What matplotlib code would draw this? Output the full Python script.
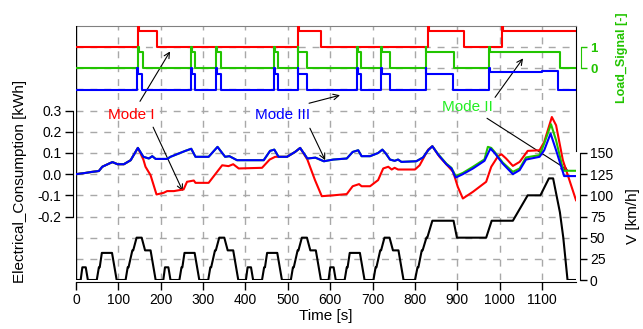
import numpy as np
import matplotlib.pyplot as plt

plt.rcParams['font.family'] = ['Liberation Sans', 'DejaVu Sans']
plt.rcParams['font.size'] = 10

GREEN = '#22c400'

# vehicle speed, NEDC [km/h]
speed_t = [0, 11, 15, 23, 28, 49, 54, 56, 61, 85, 96, 117, 122, 124, 133, 135, 143, 155, 163, 176, 188,
           206, 210, 218, 223, 244, 249, 251, 256, 280, 291, 312, 317, 319, 328, 330, 338, 350, 358, 371, 383,
           401, 405, 413, 418, 439, 444, 446, 451, 475, 486, 507, 512, 514, 523, 525, 533, 545, 553, 566, 578,
           596, 600, 608, 613, 634, 639, 641, 646, 670, 681, 702, 707, 709, 718, 720, 728, 740, 748, 761, 773,
           800, 806, 808, 816, 818, 827, 829, 841, 891, 899, 968, 981, 1031, 1066, 1096, 1116, 1126, 1142,
           1150, 1160, 1180]
speed_v = [0, 0, 15, 15, 0, 0, 15, 15, 32, 32, 0, 0, 15, 15, 35, 35, 50, 50, 35, 35, 0,
           0, 15, 15, 0, 0, 15, 15, 32, 32, 0, 0, 15, 15, 35, 35, 50, 50, 35, 35, 0,
           0, 15, 15, 0, 0, 15, 15, 32, 32, 0, 0, 15, 15, 35, 35, 50, 50, 35, 35, 0,
           0, 15, 15, 0, 0, 15, 15, 32, 32, 0, 0, 15, 15, 35, 35, 50, 50, 35, 35, 0,
           0, 15, 15, 35, 35, 50, 50, 70, 70, 50, 50, 70, 70, 100, 100, 120, 120, 80,
           50, 0, 0]

# electrical consumption [kWh]; Mode II and III identical until ~841 s
shared_t = [0, 23, 35, 54, 62, 78, 86, 98, 113, 129, 146, 159, 172, 180, 188, 215, 223, 258, 272, 282,
            313, 334, 345, 352, 362, 380, 443, 458, 468, 478, 498, 517, 529, 546, 565, 585, 607, 639,
            653, 666, 674, 694, 713, 723, 731, 741, 752, 760, 768, 803, 819, 831, 841]
shared_e = [0.0, 0.006, 0.01, 0.015, 0.035, 0.05, 0.057, 0.047, 0.047, 0.066, 0.124, 0.082, 0.074, 0.085,
            0.072, 0.072, 0.082, 0.11, 0.12, 0.082, 0.082, 0.129, 0.10, 0.082, 0.085, 0.066, 0.066, 0.11,
            0.116, 0.082, 0.082, 0.105, 0.124, 0.074, 0.078, 0.061, 0.069, 0.074, 0.105, 0.113, 0.085,
            0.085, 0.10, 0.116, 0.098, 0.069, 0.063, 0.069, 0.058, 0.061, 0.079, 0.113, 0.132]

mode3_tail_t = [854, 874, 886, 896, 913, 937, 964, 978, 988, 1007, 1031, 1047, 1062, 1094, 1105, 1120,
                1133, 1152, 1180]
mode3_tail_e = [0.094, 0.047, 0.027, -0.016, 0.0, 0.027, 0.063, 0.121, 0.10, 0.05, 0.0, 0.019, 0.069,
                0.082, 0.113, 0.192, 0.113, -0.009, -0.009]

mode2_tail_t = [854, 874, 886, 896, 913, 937, 964, 972, 980, 988, 1007, 1031, 1047, 1062, 1094, 1105,
                1121, 1133, 1150, 1180]
mode2_tail_e = [0.096, 0.05, 0.03, -0.009, 0.006, 0.035, 0.07, 0.129, 0.124, 0.105, 0.055, 0.011, 0.027,
                0.079, 0.09, 0.145, 0.236, 0.16, 0.016, 0.016]

mode1_tail_t = [159, 164, 176, 190, 207, 215, 231, 254, 262, 278, 282, 313, 333, 345, 360, 371, 384, 439,
                457, 470, 498, 517, 529, 546, 564, 580, 607, 639, 653, 668, 674, 694, 713, 725, 737, 745,
                752, 760, 800, 811, 831, 841, 858, 890, 901, 913, 937, 968, 980, 996, 1004, 1015, 1031,
                1047, 1066, 1094, 1105, 1123, 1133, 1149, 1180]
mode1_tail_e = [0.069, 0.035, -0.005, -0.096, -0.088, -0.08, -0.08, -0.072, -0.036, -0.03, -0.041, -0.041,
                0.011, 0.042, 0.038, 0.047, 0.027, 0.03, 0.069, 0.082, 0.082, 0.105, 0.124, 0.069, -0.028,
                -0.104, -0.10, -0.094, -0.057, -0.047, -0.057, -0.057, -0.028, 0.027, 0.035, 0.022, 0.03,
                0.022, 0.022, 0.042, 0.116, 0.132, 0.082, 0.011, -0.06, -0.115, -0.083, -0.036, 0.035,
                0.085, 0.094, 0.074, 0.039, 0.058, 0.11, 0.113, 0.152, 0.27, 0.231, 0.066, -0.123]

mode1_t = shared_t[:11] + mode1_tail_t
mode1_e = shared_e[:11] + mode1_tail_e
mode2_t = shared_t + mode2_tail_t
mode2_e = shared_e + mode2_tail_e
mode3_t = shared_t + mode3_tail_t
mode3_e = shared_e + mode3_tail_e

# load signals (steps)
red_sig_t = [0, 147, 149, 190, 525, 527, 578, 831, 833, 915, 1006, 1008, 1180]
red_sig = [0, 1.0, 0.75, 0, 1.0, 0.75, 0, 1.0, 0.75, 0, 1.0, 0.75, 0.75]

green_sig_t = [0, 147, 149, 159, 272, 274, 282, 331, 333, 342, 468, 470, 476, 523, 525, 546,
               664, 666, 672, 719, 721, 742, 825, 827, 892, 974, 976, 1143, 1180]
green_sig = [0, 1.0, 0.75, 0, 1.0, 0.75, 0, 1.0, 0.75, 0, 1.0, 0.75, 0, 1.0, 0.75, 0,
             1.0, 0.75, 0, 1.0, 0.75, 0, 1.0, 0.75, 0, 1.0, 0.75, 0, 0]

blue_sig_t = [0, 145, 147, 155, 272, 274, 282, 331, 333, 342, 468, 470, 476, 523, 525, 545,
              664, 666, 672, 719, 721, 742, 825, 827, 890, 974, 976, 1100, 1138, 1180]
blue_sig = [0, 1.0, 0.75, 0, 1.0, 0.75, 0, 1.0, 0.75, 0, 1.0, 0.75, 0, 1.0, 0.75, 0,
            1.0, 0.75, 0, 1.0, 0.75, 0, 1.0, 0.75, 0, 1.0, 0.82, 0.86, 0, 0]


fig = plt.figure(figsize=(6.43, 3.29), dpi=100)
ax = fig.add_axes([76 / 643, 1 - 280 / 329, 500 / 643, 254 / 329])
ax.set_xlim(0, 1180)
ax.set_ylim(-0.5, 0.7)

grid_style = dict(color='#a8a8a8', lw=1, ls=(0, (5, 5)), zorder=0)
for lvl in [-0.4, -0.3, -0.2, -0.1, 0.0, 0.1, 0.2, 0.3, 0.4, 0.5, 0.6]:
    ax.axhline(lvl, **grid_style)
for tx in range(100, 1200, 100):
    ax.axvline(tx, **grid_style)

# frame
ax.axvline(0, color='k', lw=1, zorder=3)
ax.spines['top'].set_color('#808080')
ax.spines['right'].set_bounds(0.11, 0.7)
ax.spines['left'].set_position(('outward', 2.5))
ax.spines['left'].set_bounds(-0.2, 0.3)
ax.spines['bottom'].set_position(('outward', 1.5))

ax.set_yticks([-0.2, -0.1, 0.0, 0.1, 0.2, 0.3])
ax.set_yticklabels(['-0.2', '-0.1', '0.0', '0.1', '0.2', '0.3'])
ax.set_xticks(range(0, 1200, 100))
ax.tick_params(axis='both', length=6, width=1, pad=2)
ax.set_xlabel('Time [s]', fontsize=11, labelpad=1)
ax.set_ylabel('Electrical_Consumption [kWh]', fontsize=11)
ax.yaxis.set_label_coords(-0.112, 0.39)
ax.yaxis.label.set_va('center')

ax.plot(mode1_t, mode1_e, color='#ff0000', lw=1.5, zorder=4)
ax.plot(mode2_t, mode2_e, color=GREEN, lw=1.5, zorder=5)
ax.plot(mode3_t, mode3_e, color='#0000ff', lw=1.5, zorder=6)

# speed axis
ax_v = ax.twinx()
ax_v.set_ylim(0, 300)
for s in ['top', 'left', 'bottom']:
    ax_v.spines[s].set_visible(False)
ax_v.spines['right'].set_position(('outward', 3))
ax_v.spines['right'].set_bounds(0, 150)
ax_v.set_yticks(range(0, 151, 25))
ax_v.tick_params(axis='y', length=5, width=1, pad=2)
ax_v.set_ylabel('V [km/h]', fontsize=11)
ax_v.yaxis.set_label_coords(1.113, 0.25)
ax_v.yaxis.label.set_va('center')
ax_v.plot(speed_t, speed_v, color='k', lw=1.5)

# load signal axis
ax_s = ax.twinx()
ax_s.set_ylim(-10, 2)
for s in ['top', 'left', 'bottom']:
    ax_s.spines[s].set_visible(False)
ax_s.spines['right'].set_position(('outward', 3.5))
ax_s.spines['right'].set_bounds(0, 1)
ax_s.spines['right'].set_color(GREEN)
ax_s.set_yticks([0, 1])
ax_s.set_yticklabels(['0', '1'], fontweight='bold', fontsize=9.5)
ax_s.tick_params(axis='y', length=4, width=1, pad=3, color=GREEN, labelcolor=GREEN)
ax_s.set_ylabel('Load_Signal [-]', color=GREEN, fontweight='bold', fontsize=9)
ax_s.yaxis.set_label_coords(1.093, 0.874)
ax_s.yaxis.label.set_va('center')

ax_s.plot(red_sig_t, np.array(red_sig) + 1, color='#ff0000', lw=1.5, drawstyle='steps-post')
ax_s.plot(green_sig_t, np.array(green_sig), color=GREEN, lw=1.5, drawstyle='steps-post')
ax_s.plot(blue_sig_t, np.array(blue_sig) - 1, color='#0000ff', lw=1.5, drawstyle='steps-post')

# annotations
arr = dict(arrowstyle='->', lw=0.8, color='k', shrinkA=0, shrinkB=0, mutation_scale=10)
ax.text(130, 0.278, 'Mode I', color='#ff0000', fontsize=11, ha='center', va='center')
ax.annotate('', xy=(252, -0.08), xytext=(182, 0.222), arrowprops=arr)
ax.annotate('', xy=(222, 0.58), xytext=(151, 0.344), arrowprops=arr, annotation_clip=False)

ax.text(488, 0.278, 'Mode III', color='#0000ff', fontsize=11, ha='center', va='center')
ax.annotate('', xy=(588, 0.066), xytext=(552, 0.217), arrowprops=arr)
ax.annotate('', xy=(623, 0.373), xytext=(550, 0.335), arrowprops=arr)

ax.text(923, 0.316, 'Mode II', color='#22ee22', fontsize=11, ha='center', va='center')
ax.annotate('', xy=(1161, 0.019), xytext=(970, 0.264), arrowprops=arr)
ax.annotate('', xy=(1055, 0.547), xytext=(989, 0.363), arrowprops=arr)

fig.savefig('out.png', dpi=100)
